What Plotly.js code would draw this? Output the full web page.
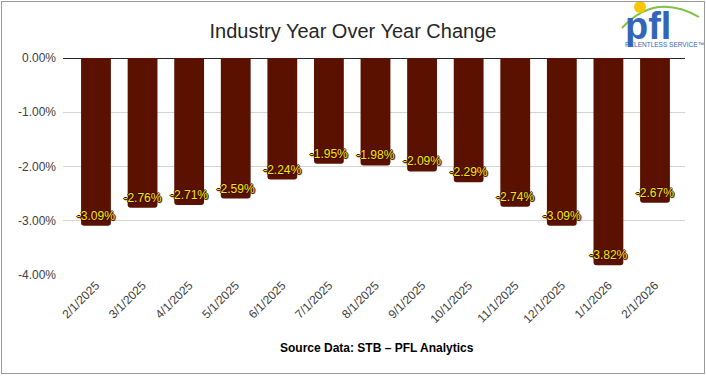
<!DOCTYPE html>
<html>
<head>
<meta charset="utf-8">
<script src="https://cdn.plot.ly/plotly-3.0.1.min.js"></script>
<style>
  html, body { margin: 0; padding: 0; background: #fff; }
  #wrap { position: relative; width: 706px; height: 377px; }
  #chart { position: absolute; left: 0; top: 0; width: 706px; height: 377px; }
  #frame { position: absolute; left: 1px; top: 1px; width: 702px; height: 371px; border: 1px solid #999; pointer-events: none; }
</style>
</head>
<body>
<div id="wrap"><div id="chart"></div><div id="frame"></div></div>
<script>
const categories = ["2/1/2025","3/1/2025","4/1/2025","5/1/2025","6/1/2025","7/1/2025","8/1/2025","9/1/2025","10/1/2025","11/1/2025","12/1/2025","1/1/2026","2/1/2026"];
const yoyChange = [-3.09,-2.76,-2.71,-2.59,-2.24,-1.95,-1.98,-2.09,-2.29,-2.74,-3.09,-3.82,-2.67];
const yTicks = [0,-1,-2,-3,-4];
const yTickLabels = ["0.00%","-1.00%","-2.00%","-3.00%","-4.00%"];

const W = 706, H = 377, L = 63, R = 21, T = 58, B = 102;
const pw = W - L - R, ph = H - T - B;
const px = x => (x - L) / pw;
const py = y => (H - B - y) / ph;

const trace = {
  type: 'bar',
  x: categories,
  y: yoyChange,
  width: 0.64,
  marker: { color: '#5A1100', cornerradius: 3 },
  texttemplate: '%{y:.2f}%',
  textposition: 'inside',
  insidetextanchor: 'end',
  constraintext: 'none',
  textangle: 0,
  textfont: { family: 'Arial, Liberation Sans, sans-serif', size: 12, color: '#FFE500',
              shadow: '1px 0 0 #3a0c00, -1px 0 0 #3a0c00, 0 1px 0 #3a0c00, 0 -1px 0 #3a0c00, 1px 1px 1px #3a0c00' },
  cliponaxis: false,
  hoverinfo: 'skip'
};

const layout = {
  width: W, height: H,
  margin: { l: L, r: R, t: T, b: B, pad: 0 },
  paper_bgcolor: '#ffffff', plot_bgcolor: '#ffffff',
  showlegend: false,
  font: { family: 'Arial, Liberation Sans, sans-serif', color: '#404040' },
  title: { text: 'Industry Year Over Year Change', xref: 'container', yref: 'container',
           x: 353 / W, xanchor: 'center', y: 1 - 31 / H, yanchor: 'middle',
           font: { size: 20, color: '#262626', family: 'Arial, Liberation Sans, sans-serif' } },
  xaxis: {
    type: 'category', range: [-0.708, 12.644], tickangle: -45,
    showgrid: false, zeroline: false, showline: false, ticks: '',
    tickfont: { size: 12, color: '#404040' }, fixedrange: true
  },
  yaxis: {
    range: [-4, 0], tickvals: yTicks, ticktext: yTickLabels,
    showgrid: true, gridcolor: '#d4d4d4', gridwidth: 1,
    zeroline: true, zerolinecolor: '#262626', zerolinewidth: 1,
    showline: false, ticks: '', ticklabelstandoff: 6,
    tickfont: { size: 12, color: '#404040' }, fixedrange: true
  },
  shapes: [
    { type: 'path', xref: 'paper', yref: 'paper',
      path: `M ${px(622)} ${py(28)} Q ${px(655)} ${py(-8)} ${px(699)} ${py(17)}`,
      line: { color: '#7dc243', width: 2 } },
    { type: 'circle', xref: 'paper', yref: 'paper',
      x0: px(634), x1: px(646), y0: py(13), y1: py(1),
      fillcolor: '#f6c800', line: { width: 0 } }
  ],
  annotations: [
    { text: '<b>Source Data: STB – PFL Analytics</b>', xref: 'paper', yref: 'paper',
      x: px(377), y: py(348), xanchor: 'center', yanchor: 'middle', showarrow: false,
      font: { size: 12, color: '#000000' } },
    { text: '<b>pfl</b>', xref: 'paper', yref: 'paper',
      x: px(648), y: py(26), xanchor: 'center', yanchor: 'middle', showarrow: false,
      font: { size: 38, color: '#3466b8', family: 'Arial, Liberation Sans, sans-serif' } },
    { text: 'RELENTLESS SERVICE™', xref: 'paper', yref: 'paper',
      x: px(664), y: py(44), xanchor: 'center', yanchor: 'middle', showarrow: false,
      font: { size: 6.5, color: '#3466b8', family: 'Arial, Liberation Sans, sans-serif' } }
  ]
};

Plotly.newPlot('chart', [trace], layout, { displayModeBar: false, staticPlot: true });
</script>
</body>
</html>
